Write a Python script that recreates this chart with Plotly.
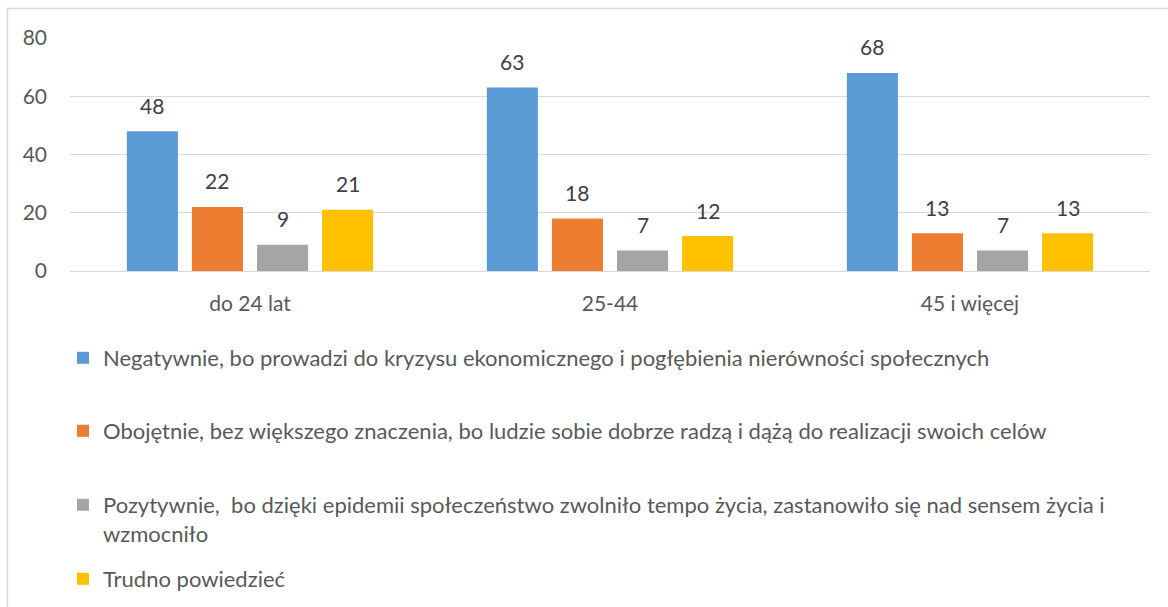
import plotly.graph_objects as go

categories = ["do 24 lat", "25-44", "45 i więcej"]
series_names = [
    "Negatywnie, bo prowadzi do kryzysu ekonomicznego i pogłębienia nierówności społecznych",
    "Obojętnie, bez większego znaczenia, bo ludzie sobie dobrze radzą i dążą do realizacji swoich celów",
    "Pozytywnie,  bo dzięki epidemii społeczeństwo zwolniło tempo życia, zastanowiło się nad sensem życia i<br>wzmocniło",
    "Trudno powiedzieć",
]
negatywnie = [48, 63, 68]
obojetnie = [22, 18, 13]
pozytywnie = [9, 7, 7]
trudno = [21, 12, 13]
series_values = [negatywnie, obojetnie, pozytywnie, trudno]
colors = ["#5B9BD5", "#ED7D31", "#A5A5A5", "#FFC000"]
y_ticks = [0, 20, 40, 60, 80]

W, H = 1168, 607
L, R, T, B = 70, 18, 38, 336
plot_w = W - L - R
plot_h = H - T - B
FONT = "Lato"
TXT = "#595959"

def px_x(px):
    return (px - L) / plot_w

def px_y(py):
    return (H - B - py) / plot_h

BARGAP = 0.277
GROUPGAP = 0.215

fig = go.Figure()
legend_names = ["legend", "legend2", "legend3", "legend4"]
for name, vals, col, lg in zip(series_names, series_values, colors, legend_names):
    fig.add_trace(go.Bar(x=categories, y=vals, name=name, marker_color=col,
                         marker_line_width=0, legend=lg))

# data labels via annotations placed on the data axes
n = len(series_values)
slot = (1 - BARGAP) / n
for k, vals in enumerate(series_values):
    for i, v in enumerate(vals):
        fig.add_annotation(x=i + (k - (n - 1) / 2) * slot, y=v, text=str(v),
                           showarrow=False, yshift=26, yanchor="middle",
                           font=dict(family=FONT, size=21, color="#404040"))

# legends positioned individually
legend_tops = [337, 410, 484, 558]
legend_cfg = {}
for lg, top in zip(legend_names, legend_tops):
    legend_cfg[lg] = dict(x=px_x(63), y=px_y(top), xanchor="left", yanchor="top",
                          font=dict(family=FONT, size=22, color=TXT),
                          bgcolor="rgba(0,0,0,0)", valign="top")

fig.update_layout(
    width=W, height=H,
    margin=dict(l=L, r=R, t=T, b=B, autoexpand=False),
    paper_bgcolor="white", plot_bgcolor="white",
    barmode="group", bargap=BARGAP, bargroupgap=GROUPGAP,
    font=dict(family=FONT, color=TXT),
    showlegend=True,
    **legend_cfg,
)
fig.update_xaxes(showgrid=False, showline=False, zeroline=False, ticks="",
                 tickfont=dict(family=FONT, size=21, color=TXT), ticklabelstandoff=18)
fig.update_yaxes(range=[0, 80], tickvals=y_ticks, showgrid=True, gridcolor="#D9D9D9",
                 gridwidth=1, zeroline=True, zerolinecolor="#D9D9D9", zerolinewidth=1,
                 showline=False, ticks="", tickfont=dict(family=FONT, size=21, color=TXT),
                 ticklabelstandoff=22)

# chart area border
fig.add_shape(type="rect", xref="paper", yref="paper",
              x0=px_x(7.5), x1=px_x(1175), y0=px_y(8.5), y1=px_y(620),
              line=dict(color="#D9D9D9", width=1.5), fillcolor="rgba(0,0,0,0)", layer="below")

fig.write_html("out.html", config={"displayModeBar": False},
               post_script="document.body.style.margin='0px';")
